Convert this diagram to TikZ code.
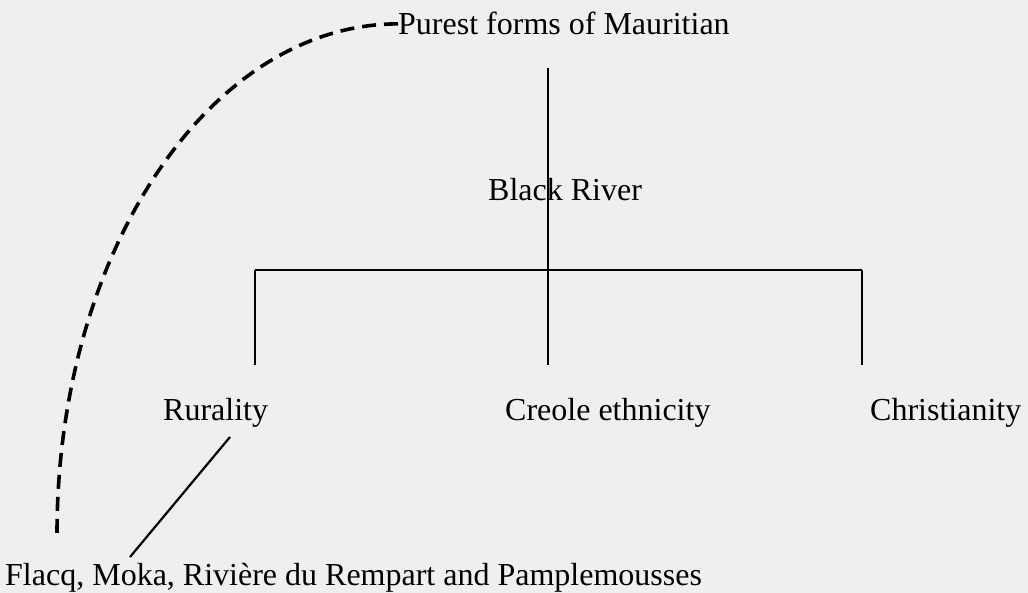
\documentclass[tikz,border=0pt]{standalone}
\usepackage{fontspec}
\setmainfont{Liberation Serif}
\definecolor{paper}{RGB}{239,239,239}
\tikzset{
    lbl/.style={inner sep=0pt, font=\fontsize{32}{38}\selectfont},
    tree/.style={line width=2.2pt, black},
    link/.style={line width=3.6pt, dash pattern=on 14pt off 8pt}
}
\begin{document}
\begin{tikzpicture}[x=1pt, y=1pt]
        \useasboundingbox (0,0) rectangle (1028,593);
        \fill[paper] (0,0) rectangle (1028,593);

        % Labels
        \node[lbl, anchor=base west] (purest) at (398,558) {Purest forms of Mauritian};
        \node[lbl, anchor=base west] (black) at (488,392) {Black River};
        \node[lbl, anchor=base west] (rural) at (163,172) {Rurality};
        \node[lbl, anchor=base west] (creole) at (505,172) {Creole ethnicity};
        \node[lbl, anchor=base west] (christ) at (870,172) {Christianity};
        \node[lbl, anchor=base west] (districts) at (5,7) {Flacq, Moka, Rivière du Rempart and Pamplemousses};

        % Tree
        \coordinate (top) at (548,525);
        \coordinate (hub) at (548,323);
        \coordinate (ruralup) at (255,323);
        \coordinate (christup) at (862,323);
        \draw[tree] (top) -- (hub) -- (548,228);
        \draw[tree] (ruralup) -- (christup);
        \draw[tree] (ruralup) -- (255,228);
        \draw[tree] (christup) -- (862,228);

        % Rurality to districts
        \coordinate (rurallow) at (230,156);
        \coordinate (districtsup) at (130,36);
        \draw[tree] (rurallow) -- (districtsup);

        % Dashed link
        \draw[link] (purest.west) arc[start angle=90, end angle=180, x radius=341, y radius=510];
\end{tikzpicture}
\end{document}
